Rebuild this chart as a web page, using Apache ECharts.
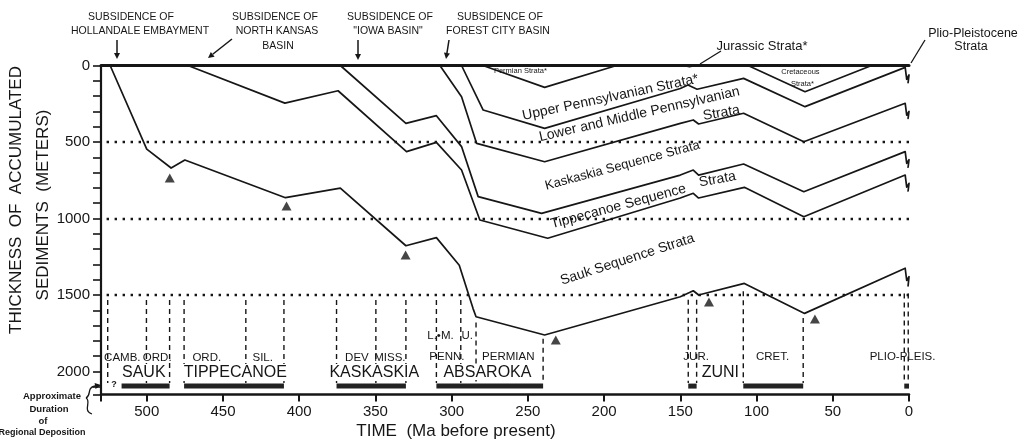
<!DOCTYPE html>
<html><head><meta charset="utf-8">
<script src="https://cdn.jsdelivr.net/npm/echarts@6/dist/echarts.min.js"></script>
<style>html,body{margin:0;padding:0;background:#fff}#c{width:1024px;height:448px}</style>
</head><body><div id="c"></div>
<script>
// ---- data (Ma before present, thickness in metres) ----
const upperPennBase   = [[293.5,0],[279.3,291],[239,411],[150,150],[145,128],[139,155],[108.5,84],[68.2,269],[2.5,12],[1.5,90],[0,62],[0.6,112]];
const lowerPennBase   = [[307.7,0],[293.5,204],[283.6,509],[239,629],[150,378],[141.5,356],[138,382],[108.5,312],[69,498],[2.5,247],[1.5,325],[0,300],[0.6,345]];
const kaskaskiaBase   = [[373,0],[330,378],[310,328],[293.5,530],[282.6,857],[241,966],[150,716],[141.5,683],[138,716],[108.5,644],[69,825],[2.5,563],[1.5,640],[0,615],[0.6,665]];
const tippecanoeBase  = [[473,0],[409.4,246],[374.5,165],[329.6,563],[310,502],[293.5,683],[281.5,1010],[237,1129],[150,866],[141.5,835],[138,866],[108,796],[69,988],[2.5,716],[1.5,795],[0,770],[0.6,820]];
const saukBase        = [[524,0],[500,546],[484,670],[475,618],[409,864],[373,801],[330,1178],[310,1125],[295,1305],[286,1587],[284,1642],[239,1761],[150,1511],[141.5,1472],[138,1500],[108,1424],[68.5,1620],[2.5,1325],[1.5,1405],[0,1380],[0.6,1440]];
const permianStrata   = [[279.5,0],[239,143],[191.8,0]];
const cretaceousStrata= [[105.6,0],[68.2,171],[24.5,0]];
const jurassicStrata  = [[149,0],[144,10],[139,0]];
const datumLine       = [[530,0],[0,0]];
const lowstands       = [[484.9,735],[408.3,918],[330.2,1238],[231.7,1794],[131.2,1546],[61.7,1657]];
const gridDepths      = [500,1000,1500];
const periodBoundaries= [[525.6,1533],[500.2,1533],[485,1533],[475.5,1533],[435,1533],[410,1533],[375.5,1533],[349.7,1533],[330,1533],[310,1533],[294,1533],[284,1680],[240,1785],[144.8,1530],[139.3,1530],[108.7,1475],[69.4,1650],[3.1,1490],[0.5,1490]];
const boundaryBottom  = 2075;
const depositionBars  = [[516.5,485],[475.5,410],[375.5,330],[310,240],[144.8,139.3],[108.7,69.4],[3.1,0]];
const barDepth        = 2095;
const sequenceNames   = ['SAUK','TIPPECANOE','KASKASKIA','ABSAROKA','ZUNI'];
const sequenceAt      = [[501.6,2007],[441.6,2007],[350.4,2007],[276.2,2007],[123.4,2007]];
const periodNames     = ['CAMB.','ORD.','ORD.','SIL.','DEV','MISS.','L.\u2022M.','U.','PENN.','PERMIAN','JUR.','CRET.','PLIO-PLEIS.'];
const periodAt        = [[515.7,1912],[492.8,1912],[460.3,1912],[423.6,1912],[361.8,1912],[340.2,1912],[307,1772],[289.4,1772],[302.8,1905],[262.5,1905],[139.3,1905],[89.2,1905],[3.9,1905]];
const strataNames     = ['Upper Pennsylvanian Strata*','Lower and Middle Pennsylvanian','Strata','Kaskaskia Sequence Strata','Tippecanoe Sequence','Strata','Sauk Sequence Strata'];
const strataAt        = [[195.5,212],[176.5,322],[122.7,314],[187.6,657],[190.3,925],[125.3,748],[184.4,1271]];
const strataAngle     = [12,13,10,15,15,10,18];
const smallNames      = ['Permian Strata*','Cretaceous','Strata*'];
const smallAt         = [[254.6,36],[70.9,45],[69.6,122]];

const INK = '#161616';
const FONT = '"Liberation Sans", Arial, sans-serif';

function curve(data, w) {
  return {type:'line', data, symbol:'none', silent:true, clip:false, z:3,
          lineStyle:{color:INK, width:w || 1.7, cap:'round', join:'round'}};
}

const series = [];
series.push(Object.assign(curve(datumLine, 3), {
  markLine:{silent:true, symbol:['none','none'], label:{show:false},
    lineStyle:{color:INK, width:2.4, type:[2.4,5.6]},
    data: gridDepths.map(d => ({yAxis:d}))}
}));
[upperPennBase, lowerPennBase, kaskaskiaBase, tippecanoeBase, saukBase, permianStrata, cretaceousStrata].forEach(d => series.push(curve(d)));
series.push(curve(jurassicStrata, 1.2));
periodBoundaries.forEach(([ma, top]) => series.push({type:'line', data:[[ma,top],[ma,boundaryBottom]], symbol:'none', silent:true, z:2,
  lineStyle:{color:INK, width:1.4, type:[5,4]}}));
depositionBars.forEach(([a,b]) => series.push({type:'line', data:[[a,barDepth],[b,barDepth]], symbol:'none', silent:true, z:4,
  lineStyle:{color:'#222', width:5, cap:'butt'}}));
series.push({type:'scatter', data:lowstands, symbol:'triangle', symbolSize:[10,9], itemStyle:{color:INK}, silent:true, z:5});

function labelSeries(names, at, opts, angles) {
  return {type:'scatter', symbolSize:1, itemStyle:{color:'rgba(0,0,0,0)'}, silent:true, clip:false, z:10,
    data: names.map((n,i) => ({value:at[i], name:n,
      label:Object.assign({show:true, position:[0,0], align:'center', verticalAlign:'middle', formatter:n,
        color:INK, textBorderWidth:0, opacity:1, fontFamily:FONT}, opts, angles ? {rotate:angles[i]} : {})}))};
}
series.push(labelSeries(sequenceNames, sequenceAt, {fontSize:16, backgroundColor:'#fff', padding:[0,1]}));
series.push(labelSeries(periodNames, periodAt, {fontSize:11.5}));
series.push(labelSeries(strataNames.slice(0,3), strataAt.slice(0,3), {fontSize:14}, strataAngle.slice(0,3)));
series.push(labelSeries(strataNames.slice(3,4), strataAt.slice(3,4), {fontSize:13}, strataAngle.slice(3,4)));
series.push(labelSeries(strataNames.slice(4), strataAt.slice(4), {fontSize:14}, strataAngle.slice(4)));
series.push(labelSeries(smallNames, smallAt, {fontSize:7.5}));

function arrow(x1,y1,x2,y2){
  const a=Math.atan2(y2-y1,x2-x1), L=6, W=3;
  const bx=x2-L*Math.cos(a), by=y2-L*Math.sin(a);
  return [{type:'line', shape:{x1,y1,x2:bx,y2:by}, style:{stroke:INK,lineWidth:1.5}},
          {type:'polygon', shape:{points:[[x2,y2],[bx+W*Math.sin(a),by-W*Math.cos(a)],[bx-W*Math.sin(a),by+W*Math.cos(a)]]}, style:{fill:INK}}];
}
function txt(x,y,t,font,opt){
  return Object.assign({type:'text', x, y, style:{text:t, font, fill:INK, align:'center', verticalAlign:'middle'}}, opt||{});
}
const ann = '10.5px ' + FONT;
const graphic = [
  txt(16,200,'THICKNESS  OF  ACCUMULATED','17px '+FONT,{rotation:Math.PI/2}),
  txt(43,205,'SEDIMENTS  (METERS)','17px '+FONT,{rotation:Math.PI/2}),
  txt(456,431,'TIME  (Ma before present)','17px '+FONT),
  txt(131,17,'SUBSIDENCE OF',ann), txt(140,31,'HOLLANDALE EMBAYMENT',ann),
  txt(275,17,'SUBSIDENCE OF',ann), txt(277,31,'NORTH KANSAS',ann), txt(278,46,'BASIN',ann),
  txt(390,17,'SUBSIDENCE OF',ann), txt(388,31,'"IOWA BASIN"',ann),
  txt(500,17,'SUBSIDENCE OF',ann), txt(498,31,'FOREST CITY BASIN',ann),
  txt(762,46,'Jurassic Strata*','13px '+FONT),
  txt(973,34,'Plio-Pleistocene','12.5px '+FONT), txt(971,47,'Strata','12.5px '+FONT),
  {type:'line', shape:{x1:721,y1:51,x2:700,y2:64}, style:{stroke:INK,lineWidth:1.3}},
  {type:'line', shape:{x1:925,y1:40,x2:911,y2:63}, style:{stroke:INK,lineWidth:1.3}},
  txt(52,396,'Approximate','bold 9.5px '+FONT), txt(49,409,'Duration','bold 9.5px '+FONT),
  txt(43,421,'of','bold 9.5px '+FONT), txt(42,433,'Regional Deposition','bold 9px '+FONT),
  txt(114,385,'?','bold 9px '+FONT),
  {type:'bezierCurve', shape:{x1:92,y1:414,cpx1:82,cpy1:411,cpx2:92,cpy2:401,x2:86,y2:398}, style:{stroke:INK, fill:null, lineWidth:1.3}},
  {type:'bezierCurve', shape:{x1:86,y1:398,cpx1:92,cpy1:395,cpx2:86,cpy2:388,x2:95,y2:386}, style:{stroke:INK, fill:null, lineWidth:1.3}}
].concat(arrow(117,40,117,59), arrow(232,39,208,58), arrow(358,40,358,60), arrow(449,40,446,59), arrow(95,386,101,385));

const chart = echarts.init(document.getElementById('c'));
chart.setOption({
  animation:false,
  backgroundColor:'#fff',
  grid:{left:101, right:115, top:65.5, bottom:53.5, containLabel:false},
  xAxis:{type:'value', inverse:true, min:0, max:530, interval:50,
    axisLine:{show:true, onZero:false, lineStyle:{color:INK, width:2.5}},
    axisTick:{show:true, length:7, lineStyle:{color:INK, width:2}},
    axisLabel:{color:INK, fontSize:15, fontFamily:FONT, margin:10, formatter:v => v % 50 === 0 ? String(v) : ''},
    splitLine:{show:false}},
  yAxis:{type:'value', inverse:true, min:0, max:2150, interval:100,
    axisLine:{show:true, onZero:false, lineStyle:{color:INK, width:2.2}},
    axisTick:{show:true, length:8, lineStyle:{color:INK, width:1.6}},
    axisLabel:{color:INK, fontSize:15, fontFamily:FONT, margin:11, formatter:v => v % 500 === 0 ? String(v) : ''},
    splitLine:{show:false}},
  series,
  graphic
});
</script></body></html>
